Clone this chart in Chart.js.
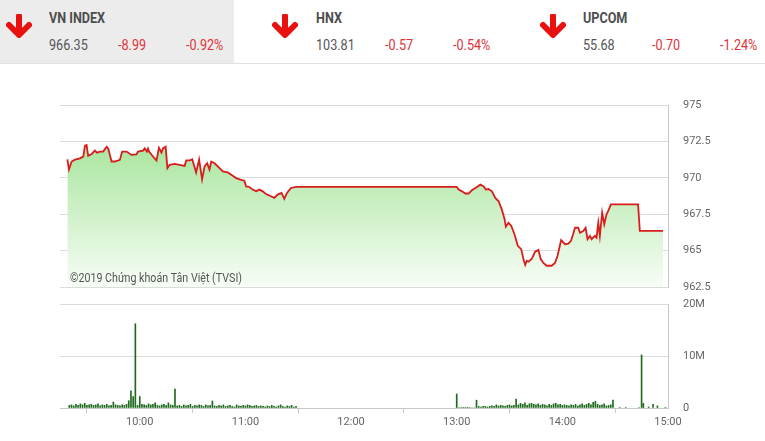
<!DOCTYPE html>
<html>
<head>
<meta charset="utf-8">
<script src="https://cdn.jsdelivr.net/npm/chart.js@4.4.1/dist/chart.umd.min.js"></script>
<style>
  body { margin: 0; width: 765px; height: 441px; background: #fff; font-family: Roboto, sans-serif; overflow: hidden; position: relative; }
  #header { position: absolute; left: 0; top: 0; width: 765px; height: 63px; border-bottom: 1px solid #e2e2e2; }
  #header .bg { position: absolute; left: 0; top: 0; width: 234px; height: 63px; background: #ececec; }
  .arrow { position: absolute; top: 14px; width: 26px; height: 24px; }
  .txt { position: absolute; font-size: 14px; line-height: 14px; white-space: nowrap; transform: scaleX(0.9); transform-origin: left center; }
  .title { top: 11px; font-weight: bold; color: #4d4d4d; }
  .val { top: 38px; color: #555; }
  .neg { color: #e0333a; }
  #priceBox { position: absolute; left: 0; top: 90px; width: 765px; height: 210px; }
  #volBox { position: absolute; left: 0; top: 295px; width: 765px; height: 146px; }
</style>
</head>
<body>
<div id="header"><div class="bg"></div></div>
<div id="priceBox"><canvas id="PriceChart"></canvas></div>
<div id="volBox"><canvas id="VolumeChart"></canvas></div>
<script>
// header indices
const indexNames = ['VN INDEX', 'HNX', 'UPCOM'];
const indexValues = ['966.35', '103.81', '55.68'];
const indexChanges = ['-8.99', '-0.57', '-0.70'];
const indexPercents = ['-0.92%', '-0.54%', '-1.24%'];

// VN-Index intraday
const priceTimes = [
    '09:18:54', '09:19:48', '09:21:18', '09:23:12', '09:26:00', '09:27:54', '09:28:54', '09:29:48', '09:30:42', '09:32:42',
    '09:34:30', '09:35:42', '09:37:24', '09:39:12', '09:41:12', '09:42:06', '09:44:00', '09:45:48', '09:48:42', '09:50:00',
    '09:52:30', '09:55:18', '09:58:06', '09:59:00', '10:01:54', '10:02:48', '10:04:06', '10:04:42', '10:05:18', '10:07:30',
    '10:09:30', '10:10:54', '10:12:18', '10:13:12', '10:14:42', '10:15:42', '10:17:00', '10:19:48', '10:22:36', '10:25:30',
    '10:26:24', '10:28:18', '10:29:48', '10:32:00', '10:33:42', '10:35:24', '10:36:48', '10:38:18', '10:39:36', '10:40:36',
    '10:42:30', '10:45:18', '10:47:12', '10:50:00', '10:52:48', '10:54:42', '10:57:12', '10:59:24', '11:00:24', '11:02:18',
    '11:04:06', '11:06:06', '11:07:54', '11:09:48', '11:11:42', '11:14:30', '11:16:24', '11:18:18', '11:20:30', '11:22:06',
    '11:23:36', '11:25:54', '11:28:54', '13:00:00', '13:01:06', '13:03:00', '13:04:54', '13:06:48', '13:08:36', '13:11:30',
    '13:13:24', '13:15:18', '13:16:36', '13:18:06', '13:20:00', '13:21:54', '13:23:48', '13:25:36', '13:27:12', '13:27:54',
    '13:29:24', '13:31:00', '13:32:48', '13:34:42', '13:36:36', '13:37:54', '13:38:54', '13:39:48', '13:40:42', '13:42:36',
    '13:44:30', '13:46:24', '13:47:42', '13:49:12', '13:51:06', '13:53:54', '13:55:48', '13:57:18', '13:59:18', '14:01:30',
    '14:03:24', '14:04:54', '14:06:12', '14:07:12', '14:09:00', '14:10:00', '14:11:54', '14:13:12', '14:14:18', '14:15:42',
    '14:16:36', '14:18:30', '14:19:24', '14:20:24', '14:21:18', '14:22:36', '14:23:48', '14:25:06', '14:26:00', '14:27:36',
    '14:43:00', '14:44:00', '14:57:12'
];
const priceValues = [
    971.27, 970.57, 971.12, 971.25, 971.34, 971.46, 972.21, 972.25, 971.51, 971.64,
    971.87, 971.73, 971.80, 971.80, 972.14, 972.00, 971.12, 971.12, 971.23, 971.80,
    971.80, 971.57, 971.60, 971.80, 971.87, 972.02, 971.80, 972.00, 971.80, 971.46,
    971.19, 972.07, 971.73, 972.02, 972.14, 970.66, 970.89, 970.96, 970.89, 970.82,
    971.19, 971.19, 971.27, 970.37, 971.25, 969.89, 970.78, 971.00, 970.57, 971.12,
    971.00, 970.66, 970.44, 970.37, 970.14, 969.98, 969.87, 969.80, 969.41, 969.37,
    969.19, 969.07, 969.19, 969.07, 968.89, 968.73, 968.62, 968.85, 968.96, 968.55,
    968.96, 969.30, 969.38, 969.38, 969.19, 969.07, 968.92, 968.92, 969.14, 969.37,
    969.53, 969.41, 969.19, 969.23, 969.07, 968.62, 968.39, 967.83, 967.15, 966.64,
    966.91, 966.69, 966.12, 965.33, 965.10, 964.42, 964.01, 964.30, 964.24, 964.42,
    964.92, 965.05, 964.42, 964.15, 963.96, 963.96, 964.15, 964.65, 965.72, 965.44,
    965.48, 965.67, 966.16, 966.57, 966.57, 966.23, 966.35, 966.57, 965.78, 966.01,
    965.78, 966.01, 965.89, 966.91, 966.01, 967.60, 966.81, 967.49, 967.71, 968.17,
    968.17, 966.35, 966.35
];

// volume (millions), one bar every 75 seconds
const volStepSec = 75;
const volAmStart = '09:20:00';
const volAm = [
    0.5, 0.6, 0.4, 0.7, 0.5, 0.8, 0.6, 0.9, 0.5, 0.6,
    0.7, 0.5, 0.6, 0.8, 0.4, 0.6, 0.5, 0.7, 0.4, 0.5,
    1.15, 0.6, 0.5, 0.4, 0.6, 0.5, 0.7, 1.4, 3.3, 2.2,
    16.2, 0.5, 2.2, 0.7, 0.6, 0.5, 0.8, 0.6, 0.7, 1.0,
    0.5, 0.4, 0.6, 0.7, 0.5, 1.0, 0.6, 0.5, 3.65, 0.4,
    0.5, 0.3, 0.6, 0.4, 0.5, 0.7, 0.3, 0.5, 0.4, 0.6,
    0.5, 0.3, 0.6, 0.4, 0.5, 1.35, 0.4, 0.3, 0.5, 0.4,
    0.6, 0.3, 0.4, 0.5, 0.3, 0.2, 0.6, 0.4, 0.3, 0.5,
    0.4, 0.6, 0.5, 0.3, 0.4, 0.5, 0.3, 0.4, 0.3, 0.2,
    0.4, 0.3, 0.5, 0.3, 0.2, 0.4, 0.6, 0.3, 0.2, 0.4,
    0.3, 0.5, 0.2, 0.3
];
const volPmStart = '13:00:00';
const volPm = [
    2.7, 0.1, 0.1, 0.1, 0.1, 0.1, 0.1, 0, 0, 1.5,
    0.3, 0.2, 0.3, 0.3, 0.2, 0.3, 0.4, 0.3, 0.6, 0.4,
    0.5, 0.4, 0.3, 0.5, 0.6, 0.4, 0.5, 1.7, 0.6, 0.9,
    0.7, 1.0, 0.5, 0.8, 0.9, 0.7, 0.6, 0.8, 0.5, 0.7,
    0.6, 0.4, 0.7, 0.5, 0.8, 0.9, 0.6, 0.7, 0.5, 0.6,
    0.5, 0.4, 0.6, 0.5, 0.7, 0.4, 0.6, 0.8, 0.5, 0.7,
    0.9, 0.6, 1.1, 1.3, 0.7, 0.5, 0.6, 0.8, 0.4, 0.5,
    0.6, 1.5
];
const atcTimes = ['14:32:30', '14:36:00', '14:43:30', '14:45:00', '14:46:00', '14:49:00', '14:51:30', '14:54:00', '14:58:30'];
const atcVols = [0.1, 0.1, 0.1, 10.2, 0.9, 0.2, 0.7, 0.4, 0.1];

const hourTicks = ['10:00', '11:00', '12:00', '13:00', '14:00', '15:00'];
const priceTicks = [962.5, 965, 967.5, 970, 972.5, 975];
const volTicks = [0, 10, 20];

// helpers
const toMin = s => {
    const p = s.split(':').map(Number);
    return p[0] * 60 + p[1] + (p[2] || 0) / 60;
};
const fmtTime = v => Math.floor(v / 60) + ':' + String(Math.round(v % 60)).padStart(2, '0');

const X_MIN = 554.7;
const X_MAX = 900;
const GRID = '#dcdcdc';
const BORDER = '#c8c8c8';
const TICK_FONT = {family: 'Roboto', size: 11};

// keep chart areas exactly where the layout padding puts them
const noEdgePadding = scale => {
    scale.paddingTop = 0;
    scale.paddingBottom = 0;
    scale.paddingLeft = 0;
    scale.paddingRight = 0;
};

// header
const header = document.getElementById('header');
const arrowLeft = [6, 272, 540];
const textLeft = [49, 316, 583];
const arrowSvg = '<svg viewBox="0 0 26 24" width="26" height="24"><path d="M13 2 V19 M3 11 L13 21 L23 11" fill="none" stroke="#e8110f" stroke-width="6" stroke-linecap="round" stroke-linejoin="round"/></svg>';
indexNames.forEach((name, i) => {
    const a = document.createElement('div');
    a.className = 'arrow';
    a.style.left = arrowLeft[i] + 'px';
    a.innerHTML = arrowSvg;
    header.appendChild(a);
    const cells = [
        ['txt title', name, textLeft[i]],
        ['txt val', indexValues[i], textLeft[i]],
        ['txt val neg', indexChanges[i], textLeft[i] + 69],
        ['txt val neg', indexPercents[i], textLeft[i] + 137]
    ];
    cells.forEach(c => {
        const d = document.createElement('div');
        d.className = c[0];
        d.textContent = c[1];
        d.style.left = c[2] + 'px';
        header.appendChild(d);
    });
});

const fixedHourTicks = scale => {
    scale.ticks = hourTicks.map(t => ({value: toMin(t)}));
};

// price chart
const watermark = {
    id: 'watermark',
    afterDatasetsDraw(chart) {
        const ctx = chart.ctx;
        const text = '\u00a92019 Chứng khoán Tân Việt (TVSI)';
        ctx.save();
        ctx.font = '12px Roboto';
        ctx.fillStyle = '#555';
        const w = ctx.measureText(text).width;
        ctx.translate(chart.chartArea.left + 10, chart.chartArea.bottom - 5);
        ctx.scale(172 / w, 1);
        ctx.fillText(text, 0, 0);
        ctx.restore();
    }
};

const ctx1 = document.getElementById('PriceChart');
const PriceChart = new Chart(ctx1, {
    type: 'line',
    data: {
        datasets: [{
            data: priceTimes.map((t, i) => ({x: toMin(t), y: priceValues[i]})),
            borderColor: '#d91c1c',
            borderWidth: 1.8,
            pointRadius: 0,
            tension: 0,
            fill: 'start',
            backgroundColor: (c) => {
                const area = c.chart.chartArea;
                if (!area) return 'rgba(150,220,140,0.6)';
                const g = c.chart.ctx.createLinearGradient(0, area.top, 0, area.bottom);
                g.addColorStop(0, '#94df86');
                g.addColorStop(1, '#f7fdf6');
                return g;
            }
        }]
    },
    options: {
        responsive: true,
        maintainAspectRatio: false,
        animation: false,
        layout: {padding: {left: 60, top: 15, bottom: 13, right: 0}},
        plugins: {legend: {display: false}, tooltip: {enabled: false}},
        scales: {
            x: {type: 'linear', display: false, min: X_MIN, max: X_MAX},
            y: {
                position: 'right',
                min: priceTicks[0],
                max: priceTicks[priceTicks.length - 1],
                afterBuildTicks: scale => { scale.ticks = priceTicks.map(v => ({value: v})); },
                afterFit: scale => { scale.width = 97; noEdgePadding(scale); },
                grid: {color: GRID, drawTicks: false},
                border: {display: true, color: BORDER},
                ticks: {padding: 15, color: '#666', font: TICK_FONT, callback: v => String(v)}
            }
        }
    },
    plugins: [watermark]
});

// volume chart
const volData = [];
volAm.forEach((v, i) => volData.push({x: toMin(volAmStart) + i * volStepSec / 60, y: v * 1e6}));
volPm.forEach((v, i) => volData.push({x: toMin(volPmStart) + i * volStepSec / 60, y: v * 1e6}));
atcTimes.forEach((t, i) => volData.push({x: toMin(t), y: atcVols[i] * 1e6}));

const ctx2 = document.getElementById('VolumeChart');
const VolumeChart = new Chart(ctx2, {
    type: 'bar',
    data: {
        datasets: [{
            data: volData,
            backgroundColor: '#1d6a1d',
            barThickness: 1,
            grouped: false
        }]
    },
    options: {
        responsive: true,
        maintainAspectRatio: false,
        animation: false,
        layout: {padding: {left: 60, top: 9, bottom: 0, right: 0}},
        plugins: {legend: {display: false}, tooltip: {enabled: false}},
        scales: {
            x: {
                type: 'linear',
                min: X_MIN,
                max: X_MAX,
                offset: false,
                afterBuildTicks: fixedHourTicks,
                afterFit: scale => { scale.height = 33; noEdgePadding(scale); },
                grid: {drawOnChartArea: false, drawTicks: true, tickLength: 5, color: BORDER},
                border: {display: true, color: BORDER},
                ticks: {padding: 3, color: '#666', font: TICK_FONT, maxRotation: 0, autoSkip: false, callback: v => fmtTime(v)}
            },
            y: {
                position: 'right',
                min: 0,
                max: volTicks[volTicks.length - 1] * 1e6,
                afterBuildTicks: scale => { scale.ticks = volTicks.map(v => ({value: v * 1e6})); },
                afterFit: scale => { scale.width = 97; noEdgePadding(scale); },
                grid: {color: GRID, drawTicks: false},
                border: {display: true, color: BORDER},
                ticks: {padding: 15, color: '#666', font: TICK_FONT, callback: v => v === 0 ? '0' : (v / 1e6) + 'M'}
            }
        }
    }
});
</script>
</body>
</html>
